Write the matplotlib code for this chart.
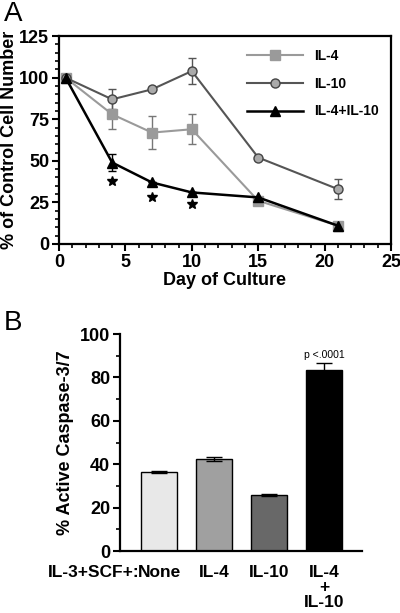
import matplotlib.pyplot as plt
from matplotlib.lines import Line2D
from matplotlib.ticker import MultipleLocator

plt.rcParams['font.family'] = ['Liberation Sans', 'DejaVu Sans']
plt.rcParams['font.weight'] = 'bold'

# Panel A: cell number over time
days = [0.5, 4, 7, 10, 15, 21]
il4 = [100, 78, 67, 69, 26, 11]
il4_err = [0, 9, 10, 9, 0, 0]
il10 = [100, 87, 93, 104, 52, 33]
il10_err = [0, 6, 0, 8, 0, 6]
combo = [100, 49, 37, 31, 28, 11]
combo_err = [0, 5, 0, 0, 0, 0]
star_days = [4, 7, 10]
star_y = [38, 28, 24]

# Panel B: caspase activity
groups = ['None', 'IL-4', 'IL-10', 'IL-4\n+\nIL-10']
caspase = [36.5, 42.5, 26, 83.5]
caspase_err = [0.5, 1.0, 0.4, 3.0]
bar_colors = ['#e8e8e8', '#a0a0a0', '#686868', '#000000']

fig = plt.figure(figsize=(4, 6.13), dpi=100)

ax = fig.add_axes([0.1475, 0.602, 0.83, 0.339])
s1 = dict(color='#9a9a9a', marker='s', ms=7, lw=1.5)
s2 = dict(color='#555555', marker='o', ms=6.5, mfc='#aaaaaa', mec='#444444',
          lw=1.5)
s3 = dict(color='black', marker='^', ms=7, lw=1.8)
ax.errorbar(days, il4, yerr=il4_err, capsize=3, ecolor='#777777',
            elinewidth=1, **s1)
ax.errorbar(days, il10, yerr=il10_err, capsize=3, elinewidth=1, **s2)
ax.errorbar(days, combo, yerr=combo_err, capsize=3, elinewidth=1, **s3)
ax.plot(star_days, star_y, ls='none', marker='*', ms=7, color='black')

ax.set_xlim(0, 25)
ax.set_ylim(0, 125)
ax.xaxis.set_major_locator(MultipleLocator(5))
ax.xaxis.set_minor_locator(MultipleLocator(1))
ax.yaxis.set_major_locator(MultipleLocator(25))
ax.yaxis.set_minor_locator(MultipleLocator(5))
ax.tick_params(which='major', length=5, width=1.5, labelsize=13, pad=2)
ax.tick_params(which='minor', length=3, width=1.2)
for s in ax.spines.values():
    s.set_linewidth(1.6)
ax.set_xlabel('Day of Culture', fontsize=13, fontweight='bold', labelpad=1)
ax.set_ylabel('% of Control Cell Number', fontsize=13, fontweight='bold',
              labelpad=1)
handles = [Line2D([], [], **s1), Line2D([], [], **s2), Line2D([], [], **s3)]
ax.legend(handles, ['IL-4', 'IL-10', 'IL-4+IL-10'], loc='upper right',
          frameon=False, fontsize=10, handlelength=4, labelspacing=1.0,
          borderaxespad=0.5)
fig.text(0.01, 0.998, 'A', fontsize=20, fontweight='normal', va='top')

# Panel B
bx = fig.add_axes([0.30, 0.101, 0.605, 0.354])
pos = [0, 1, 2, 3]
bx.bar(pos, caspase, width=0.65, color=bar_colors, edgecolor='black',
       linewidth=1, yerr=caspase_err, capsize=6,
       error_kw=dict(elinewidth=1, capthick=1))
bx.text(pos[3], caspase[3] + caspase_err[3] + 1.5, 'p <.0001',
        ha='center', va='bottom', fontsize=7.5, fontweight='normal')
bx.set_xlim(-0.71, 3.69)
bx.set_ylim(0, 100)
bx.yaxis.set_major_locator(MultipleLocator(20))
bx.yaxis.set_minor_locator(MultipleLocator(10))
bx.set_xticks(pos)
bx.set_xticklabels(groups, fontsize=12.5, va='top', linespacing=1.0)
bx.tick_params(axis='x', length=0, pad=10)
bx.tick_params(axis='y', which='major', length=5, width=1.5, labelsize=13,
               pad=2)
bx.tick_params(axis='y', which='minor', length=3, width=1.2)
for side in ['top', 'right']:
    bx.spines[side].set_visible(False)
for side in ['left', 'bottom']:
    bx.spines[side].set_linewidth(1.6)
bx.annotate('IL-3+SCF+:', xy=(pos[0], 0), xycoords='data',
            xytext=(-14, -10), textcoords='offset points',
            ha='right', va='top', fontsize=12.5, fontweight='bold')
bx.set_ylabel('% Active Caspase-3/7', fontsize=13, fontweight='bold',
              labelpad=4)
fig.text(0.01, 0.495, 'B', fontsize=20, fontweight='normal', va='top')

fig.savefig('out.png', dpi=100)
